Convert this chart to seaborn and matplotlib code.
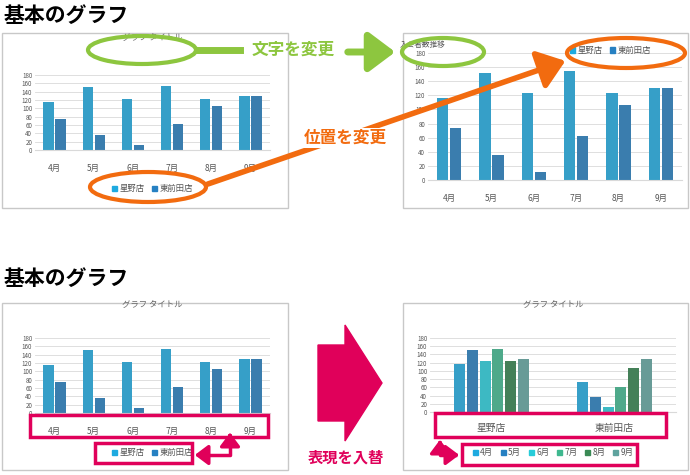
import pandas as pd
import seaborn as sns
import matplotlib.pyplot as plt
from matplotlib.patches import Rectangle, Ellipse, Polygon, FancyArrowPatch

plt.rcParams["font.family"] = "Noto Sans CJK JP"

months = ["4月", "5月", "6月", "7月", "8月", "9月"]
stores = ["星野店", "東前田店"]
hoshino = [116, 152, 123, 154, 123, 130]
higashi = [74, 36, 11, 62, 106, 130]
yticks = [0, 20, 40, 60, 80, 100, 120, 140, 160, 180]

store_colors = ["#1EAAE0", "#2680C2"]
month_colors = ["#1EAAE0", "#2680C2", "#27CCD9", "#3FB88F", "#3A8A55", "#5FA39E"]

df = pd.DataFrame({
    "month": months * 2,
    "store": [stores[0]] * 6 + [stores[1]] * 6,
    "value": hoshino + higashi,
})

W, H = 690, 475
fig = plt.figure(figsize=(6.9, 4.75), dpi=100)


def px_axes(x0, y0, x1, y1, **kw):
    return fig.add_axes([x0 / W, 1 - y1 / H, (x1 - x0) / W, (y1 - y0) / H], **kw)


# background: panel frames and headings
bg = px_axes(0, 0, W, H, zorder=0)
bg.set_xlim(0, W); bg.set_ylim(H, 0); bg.axis("off")
for (x0, y0, x1, y1) in [(2, 33, 288, 208), (403, 33, 688, 208), (2, 303, 288, 470), (403, 303, 688, 470)]:
    bg.add_patch(Rectangle((x0, y0), x1 - x0, y1 - y0, fill=False, ec="#C8C8C8", lw=1))
bg.text(4, 15, "基本のグラフ", fontsize=15, fontweight="bold", va="center")
bg.text(4, 278, "基本のグラフ", fontsize=15, fontweight="bold", va="center")


def chart(box, x, hue, palette, cat_y, legend_xy, title=None, title_left=False, legend_pos=None):
    ax = px_axes(*box, zorder=2)
    ax.set_facecolor("none")
    sns.barplot(data=df, x=x, y="value", hue=hue, palette=palette, ax=ax,
                width=0.62, gap=0.15, legend=False)
    ax.set_ylim(0, 180)
    ax.set_yticks(yticks)
    ax.tick_params(axis="y", labelsize=4.5, length=0, colors="#555555", pad=2)
    ax.tick_params(axis="x", length=0, labelsize=6, colors="#555555", pad=cat_y)
    ax.grid(axis="y", color="#D9D9D9", lw=0.6)
    ax.set_axisbelow(True)
    for s in ["top", "right", "left"]:
        ax.spines[s].set_visible(False)
    ax.spines["bottom"].set_color("#D9D9D9")
    ax.set_xlabel(""); ax.set_ylabel("")
    labels = months if hue == "month" else stores
    handles = [Rectangle((0, 0), 1, 1, color=c) for c in palette]
    ax.legend(handles, labels, loc="center", bbox_to_anchor=legend_xy, ncol=len(labels),
              frameon=False, fontsize=6, handlelength=0.6, handleheight=0.6,
              handletextpad=0.3, columnspacing=0.9, labelcolor="#555555")
    return ax


a1 = chart((35, 75, 270, 150), "month", "store", store_colors, 10, (0.5, -0.52))
a1.set_title("グラフ タイトル", fontsize=6, color="#666666", pad=25)
a2 = chart((428, 53, 682, 180), "month", "store", store_colors, 10, (0.72, 1.02))
a2.text(-0.11, 1.05, "入会者数推移", transform=a2.transAxes, fontsize=5.5, color="#555555")
a3 = chart((35, 338, 270, 413), "month", "store", store_colors, 10, (0.5, -0.53))
a3.set_title("グラフ タイトル", fontsize=6, color="#666666", pad=22)
a4 = chart((430, 338, 676, 412), "store", "month", month_colors, 8, (0.5, -0.55))
a4.set_title("グラフ タイトル", fontsize=6, color="#666666", pad=22)
a4.tick_params(axis="x", labelsize=7)

# annotations overlay
ov = px_axes(0, 0, W, H, zorder=10)
ov.set_xlim(0, W); ov.set_ylim(H, 0); ov.axis("off")
green = "#8DC63F"; orange = "#F26B0F"; mag = "#E0005A"
ov.add_patch(Ellipse((142, 50), 108, 28, fill=False, ec=green, lw=3))
ov.add_patch(Ellipse((443, 52), 82, 28, fill=False, ec=green, lw=3))
ov.plot([197, 240], [50, 50], color=green, lw=5)
ov.text(293, 50, "文字を変更", color=green, fontsize=12, fontweight="bold", ha="center", va="center")
ov.add_patch(FancyArrowPatch((345, 52), (398, 52), arrowstyle="-|>,head_length=8,head_width=6",
                             color=green, lw=5, mutation_scale=2))
ov.add_patch(Ellipse((148, 187), 116, 30, fill=False, ec=orange, lw=3))
ov.add_patch(Ellipse((626, 53), 118, 30, fill=False, ec=orange, lw=3))
ov.add_patch(FancyArrowPatch((205, 185), (568, 60), arrowstyle="-|>,head_length=8,head_width=6",
                             color=orange, lw=4, mutation_scale=2))
ov.text(345, 138, "位置を変更", color=orange, fontsize=12, fontweight="bold", ha="center", va="center",
        bbox=dict(fc="white", ec="none", pad=1))
ov.add_patch(Polygon([(318, 345), (345, 345), (345, 325), (382, 383), (345, 441), (345, 421), (318, 421)],
                     color=mag))
ov.text(346, 458, "表現を入替", color=mag, fontsize=11, fontweight="bold", ha="center", va="center")
for (x0, y0, x1, y1) in [(30, 415, 268, 437), (95, 443, 192, 463), (435, 413, 666, 437), (462, 444, 637, 465)]:
    ov.add_patch(Rectangle((x0, y0), x1 - x0, y1 - y0, fill=False, ec=mag, lw=2.5))
ov.plot([230, 230, 200], [440, 455, 455], color=mag, lw=2.5)
ov.add_patch(FancyArrowPatch((205, 455), (192, 455), arrowstyle="-|>,head_length=4,head_width=3",
                             color=mag, lw=2.5, mutation_scale=2))
ov.add_patch(FancyArrowPatch((230, 440), (230, 430), arrowstyle="-|>,head_length=4,head_width=3",
                             color=mag, lw=2.5, mutation_scale=2))
ov.plot([440, 440, 455], [445, 455, 455], color=mag, lw=2.5)
ov.add_patch(FancyArrowPatch((450, 455), (462, 455), arrowstyle="-|>,head_length=4,head_width=3",
                             color=mag, lw=2.5, mutation_scale=2))
ov.add_patch(FancyArrowPatch((440, 448), (440, 437), arrowstyle="-|>,head_length=4,head_width=3",
                             color=mag, lw=2.5, mutation_scale=2))

fig.savefig("out.png", dpi=100)
